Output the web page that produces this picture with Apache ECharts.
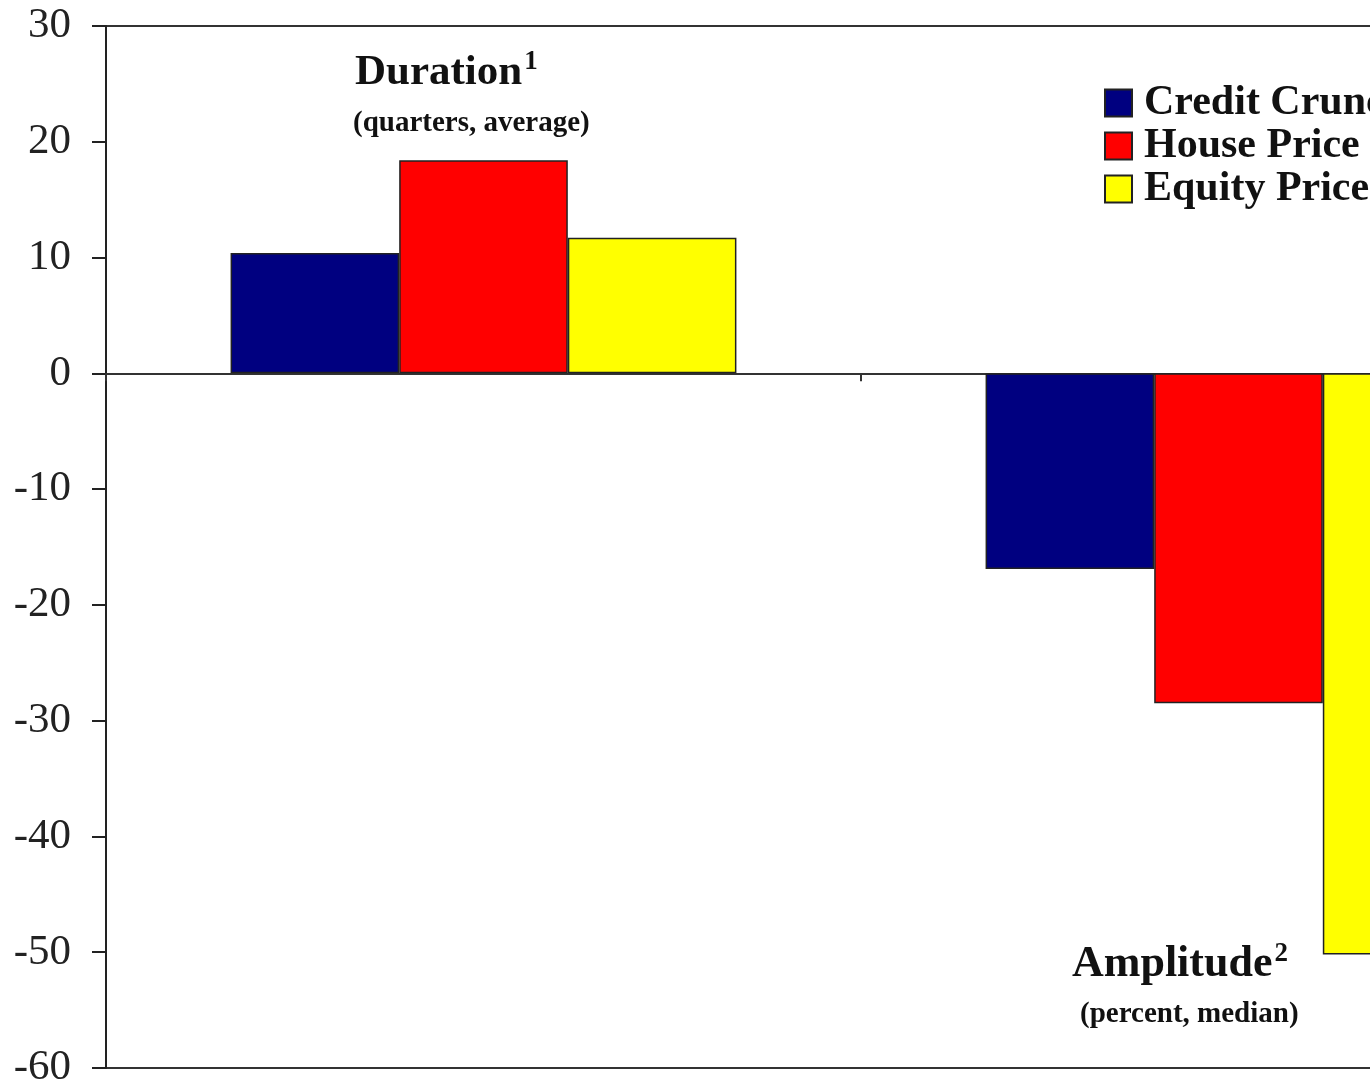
<!DOCTYPE html>
<html>
<head>
<meta charset="utf-8">
<script src="https://cdn.jsdelivr.net/npm/echarts@6/dist/echarts.min.js"></script>
<style>
html,body{margin:0;padding:0;background:#fff;overflow:hidden;}
#c{width:1700px;height:1080px;}
</style>
</head>
<body>
<div id="c"></div>
<script>
const categories = ['Duration', 'Amplitude'];
const seriesNames = ['Credit Crunches', 'House Price Busts', 'Equity Price Busts'];
const creditCrunches = [10.4, -16.9];
const housePriceBusts = [18.4, -28.5];
const equityPriceBusts = [11.7, -50.2];
const seriesColors = ['#000080', '#ff0000', '#ffff00'];
const yTicks = { min: -60, max: 30, interval: 10 };

const serif = '"Liberation Serif", "Times New Roman", serif';
const chart = echarts.init(document.getElementById('c'));
const values = [creditCrunches, housePriceBusts, equityPriceBusts];

chart.setOption({
  animation: false,
  backgroundColor: '#fff',
  grid: { left: 106, top: 26, width: 1510, height: 1042, outerBoundsMode: 'none', containLabel: false,
          show: true, borderColor: '#333', borderWidth: 2, backgroundColor: 'transparent' },
  legend: {
    left: 1104, top: 82, orient: 'vertical', icon: 'rect', padding: 0,
    itemWidth: 27, itemHeight: 27, itemGap: 1,
    textStyle: { fontFamily: serif, fontWeight: 'bold', fontSize: 42, lineHeight: 30, color: '#111', padding: [2, 0, 0, 7] },
    data: seriesNames
  },
  xAxis: {
    type: 'category', data: categories,
    axisLine: { onZero: true, lineStyle: { color: '#333', width: 2 } },
    axisTick: { show: true, length: 8, lineStyle: { color: '#333', width: 2 } },
    axisLabel: { show: false },
    splitLine: { show: false }
  },
  yAxis: {
    type: 'value', min: yTicks.min, max: yTicks.max, interval: yTicks.interval,
    axisLine: { show: true, onZero: false, lineStyle: { color: '#222', width: 2 } },
    axisTick: { show: true, length: 14, lineStyle: { color: '#222', width: 2 } },
    axisLabel: { fontFamily: serif, fontSize: 43, color: '#222', margin: 35 },
    splitLine: { show: false }
  },
  series: seriesNames.map((n, i) => ({
    name: n, type: 'bar', data: values[i],
    barGap: '0%', barCategoryGap: '33%',
    itemStyle: { color: seriesColors[i], borderColor: '#222', borderWidth: 1.5 }
  })),
  graphic: [
    { type: 'text', left: 355, top: 49, style: {
        text: '{t|Duration}{s|1}', rich: {
          t: { fontFamily: serif, fontWeight: 'bold', fontSize: 43, fill: '#111' },
          s: { fontFamily: serif, fontWeight: 'bold', fontSize: 27, fill: '#111', verticalAlign: 'top', padding: [0, 0, 20, 2] }
        } } },
    { type: 'text', left: 353, top: 109, style: { text: '(quarters, average)', fontFamily: serif, fontWeight: 'bold', fontSize: 29, fill: '#111' } },
    { type: 'text', left: 1072, top: 941, style: {
        text: '{t|Amplitude}{s|2}', rich: {
          t: { fontFamily: serif, fontWeight: 'bold', fontSize: 44, fill: '#111' },
          s: { fontFamily: serif, fontWeight: 'bold', fontSize: 27, fill: '#111', verticalAlign: 'top', padding: [0, 0, 20, 2] }
        } } },
    { type: 'text', left: 1080, top: 1000, style: { text: '(percent, median)', fontFamily: serif, fontWeight: 'bold', fontSize: 29, fill: '#111' } }
  ]
});
</script>
</body>
</html>
